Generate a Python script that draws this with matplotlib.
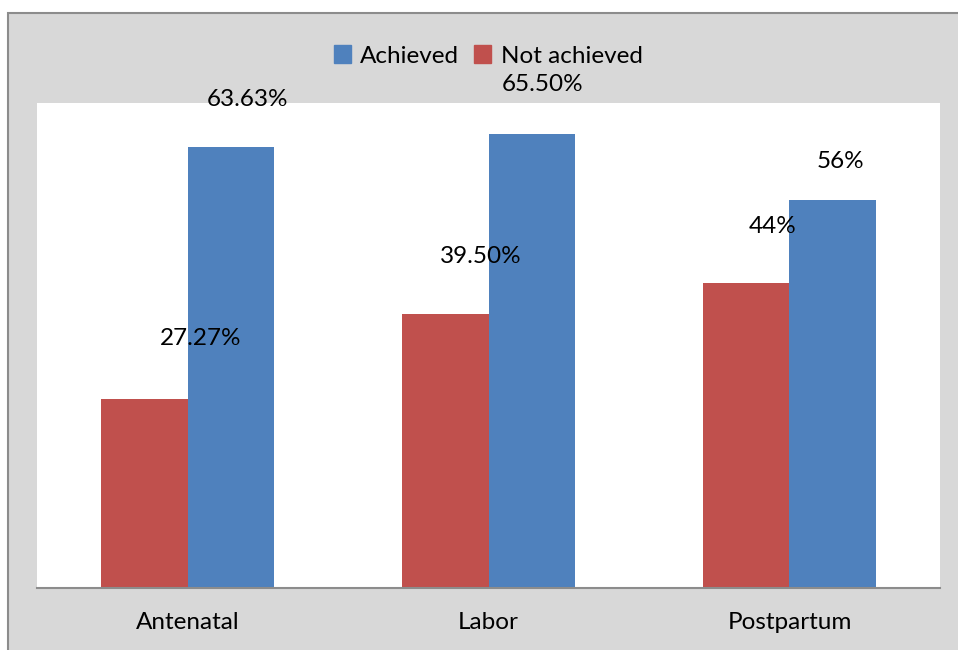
import numpy as np
import matplotlib.pyplot as plt
from matplotlib.patches import Rectangle, Patch

plt.rcParams['font.family'] = ['Lato', 'DejaVu Sans']

categories = ["Antenatal", "Labor", "Postpartum"]
achieved = [63.63, 65.50, 56.0]
not_achieved = [27.27, 39.50, 44.0]
achieved_labels = ["63.63%", "65.50%", "56%"]
not_achieved_labels = ["27.27%", "39.50%", "44%"]

blue = "#4F81BD"
red = "#C0504D"
fs = 17.5

fig = plt.figure(figsize=(9.58, 6.5), dpi=100)
fig.patch.set_facecolor("white")

# grey "marble" panel behind the chart
fig.patches.append(Rectangle((8 / 958, -0.01), 1.0, (650 - 13) / 650 + 0.01,
                             transform=fig.transFigure, facecolor="#d8d8d8",
                             edgecolor="#8c8c8c", linewidth=1.5, zorder=-5))

ax = fig.add_axes([37 / 958, (650 - 588) / 650, 903 / 958, 485 / 650])
ax.set_zorder(2)
ax.set_facecolor("white")

x = np.arange(len(categories))
w = 0.286
ax.bar(x - w / 2, not_achieved, w, color=red, zorder=2)
ax.bar(x + w / 2, achieved, w, color=blue, zorder=2)

# label placement as in the original (offsets from bar centre / top)
ach_dx = [0.057, 0.037, 0.027]
ach_dy = [6.9, 7.1, 5.5]
not_dx = [0.187, 0.117, 0.087]
not_dy = [8.8, 8.3, 8.2]
for i in range(len(categories)):
    ax.text(x[i] + w / 2 + ach_dx[i], achieved[i] + ach_dy[i], achieved_labels[i],
            ha="center", va="center", fontsize=fs, clip_on=False)
    ax.text(x[i] - w / 2 + not_dx[i], not_achieved[i] + not_dy[i], not_achieved_labels[i],
            ha="center", va="center", fontsize=fs, clip_on=False)

ax.set_xlim(-0.5, 2.5)
ax.set_ylim(0, 70)
ax.set_yticks([])
ax.set_xticks(x)
ax.set_xticklabels(categories, fontsize=fs)
ax.tick_params(axis="x", length=0, pad=17.5)
for s in ["top", "left", "right"]:
    ax.spines[s].set_visible(False)
ax.spines["bottom"].set_color("#8c8c8c")
ax.spines["bottom"].set_linewidth(1.5)

handles = [Patch(color=blue, label="Achieved"), Patch(color=red, label="Not achieved")]
fig.legend(handles=handles, loc="center", bbox_to_anchor=(488 / 958, 1 - 56 / 650),
           ncol=2, frameon=False, fontsize=fs, handlelength=0.7, handleheight=0.7,
           handletextpad=0.4, columnspacing=0.6)

plt.savefig("out.png", dpi=100)
